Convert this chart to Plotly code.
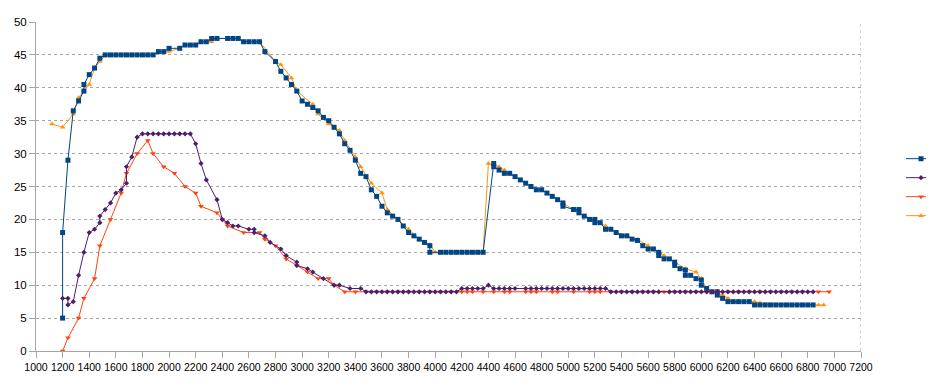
import plotly.graph_objects as go

# ---- Series 1 (blue, squares)
s1_x = [1200, 1200, 1240, 1280, 1320, 1360, 1360, 1400, 1440, 1480, 1520,
        1560, 1600, 1640, 1680, 1720, 1760, 1800, 1840, 1880, 1920, 1960, 2000,
        2080, 2120, 2160, 2200, 2240, 2280, 2320, 2360, 2440, 2480, 2520, 2560,
        2600, 2640, 2680, 2720, 2800, 2840, 2880, 2920, 2960, 3000, 3040, 3080,
        3120, 3160, 3200, 3240, 3280, 3320, 3360, 3400, 3440, 3480, 3520, 3560,
        3600, 3640, 3680, 3720, 3760, 3800, 3840, 3880, 3920, 3960, 3960, 4040,
        4080, 4120, 4160, 4200, 4240, 4280, 4320, 4360, 4440, 4440, 4480, 4520,
        4560, 4600, 4640, 4680, 4720, 4760, 4800, 4840, 4880, 4920, 4960, 4960,
        5040, 5080, 5080, 5120, 5160, 5200, 5200, 5240, 5280, 5320, 5360, 5400,
        5440, 5480, 5520, 5560, 5600, 5640, 5680, 5680, 5720, 5760, 5800, 5800,
        5840, 5880, 5880, 5920, 5960, 6000, 6000, 6040, 6080, 6120, 6120, 6160,
        6200, 6240, 6280, 6320, 6360, 6400, 6440, 6480, 6520, 6560, 6600, 6640,
        6680, 6720, 6760, 6800, 6840]
s1_y = [5, 18, 29, 36.5, 38, 39.5, 40.5, 42, 43, 44.5, 45,
        45, 45, 45, 45, 45, 45, 45, 45, 45, 45.5, 45.5, 46,
        46, 46.5, 46.5, 46.5, 47, 47, 47.5, 47.5, 47.5, 47.5, 47.5, 47,
        47, 47, 47, 45.5, 44, 42.5, 41.5, 40.5, 39.5, 38, 37.5, 37,
        36.5, 35.5, 35, 34, 33, 31.5, 30.5, 29, 27, 26.5, 24.5, 23.5,
        22, 21, 20.5, 20, 19, 18, 17.5, 17, 16.5, 16, 15, 15,
        15, 15, 15, 15, 15, 15, 15, 15, 28.5, 28, 27.5, 27,
        27, 26.5, 26, 25.5, 25, 24.5, 24.5, 24, 23.5, 23, 22.5, 22,
        21.5, 21.5, 21, 20.5, 20, 20, 19.5, 19.5, 18.5, 18.5, 18, 17.5,
        17.5, 17, 16.8, 16, 15.5, 15.5, 15, 14.5, 14, 14, 13.5, 13,
        12.5, 12.3, 11.5, 11.5, 11, 10.8, 10, 9.5, 9, 9, 8.5, 8,
        7.5, 7.5, 7.5, 7.5, 7.5, 7, 7, 7, 7, 7, 7, 7,
        7, 7, 7, 7, 7]

# ---- Series 2 (purple, diamonds)
s2_x = [1200, 1240, 1240, 1280, 1320, 1360, 1400, 1440, 1480, 1480, 1520,
        1560, 1600, 1640, 1680, 1680, 1720, 1760, 1800, 1840, 1880, 1920, 1960,
        2000, 2040, 2080, 2120, 2160, 2200, 2240, 2280, 2360, 2400, 2440, 2480,
        2520, 2600, 2640, 2640, 2720, 2760, 2840, 2880, 2960, 2960, 3040, 3080,
        3160, 3240, 3280, 3360, 3440, 3480, 3520, 3560, 3600, 3640, 3680, 3720,
        3760, 3800, 3840, 3880, 3920, 3960, 4000, 4040, 4080, 4120, 4160, 4200,
        4240, 4280, 4320, 4360, 4400, 4440, 4480, 4520, 4560, 4600, 4680, 4720,
        4760, 4800, 4840, 4880, 4920, 4960, 5000, 5040, 5080, 5120, 5160, 5200,
        5240, 5280, 5320, 5360, 5400, 5440, 5480, 5520, 5560, 5600, 5640, 5680,
        5760, 5800, 5840, 5880, 5920, 5960, 6000, 6040, 6080, 6120, 6160, 6200,
        6240, 6280, 6320, 6360, 6400, 6440, 6480, 6520, 6560, 6600, 6640, 6680,
        6720, 6760, 6800, 6840]
s2_y = [8, 8, 7, 7.5, 11.5, 15, 18, 18.5, 19.5, 20.5, 21.5,
        22.5, 24, 24.5, 25.5, 28, 29.5, 32.5, 33, 33, 33, 33, 33,
        33, 33, 33, 33, 33, 31.5, 28.5, 26, 23, 20, 19.5, 19,
        19, 18.5, 18.5, 18, 17.5, 16.5, 15.5, 14.5, 13.5, 13, 12.5, 12,
        11, 10, 10, 9.5, 9.5, 9, 9, 9, 9, 9, 9, 9,
        9, 9, 9, 9, 9, 9, 9, 9, 9, 9, 9, 9.5,
        9.5, 9.5, 9.5, 9.5, 10, 9.5, 9.5, 9.5, 9.5, 9.5, 9.5, 9.5,
        9.5, 9.5, 9.5, 9.5, 9.5, 9.5, 9.5, 9.5, 9.5, 9.5, 9.5, 9.5,
        9.5, 9.5, 9, 9, 9, 9, 9, 9, 9, 9, 9, 9,
        9, 9, 9, 9, 9, 9, 9, 9, 9, 9, 9, 9,
        9, 9, 9, 9, 9, 9, 9, 9, 9, 9, 9, 9,
        9, 9, 9, 9]

# ---- Series 3 (red, triangle-down)
s3_x = [1200, 1240, 1320, 1360, 1440, 1480, 1560, 1640, 1680, 1760, 1840,
        1880, 1960, 2040, 2120, 2200, 2240, 2360, 2400, 2440, 2560, 2680, 2720,
        2800, 2880, 2960, 3040, 3120, 3200, 3240, 3320, 3400, 3480, 3560, 3640,
        3720, 3800, 3880, 3960, 4040, 4120, 4200, 4240, 4280, 4360, 4440, 4520,
        4560, 4680, 4720, 4760, 4880, 4920, 5040, 5160, 5200, 5240, 5320, 5400,
        5480, 5560, 5640, 5720, 5800, 5880, 5960, 6040, 6120, 6200, 6280, 6360,
        6440, 6520, 6600, 6680, 6760, 6880, 6960]
s3_y = [0, 2, 5, 8, 11, 16, 20, 24, 27, 30, 32,
        30, 28, 27, 25, 24, 22, 21, 20, 19, 18, 18, 17,
        16, 14, 13, 12, 11, 11, 10, 9, 9, 9, 9, 9,
        9, 9, 9, 9, 9, 9, 9, 9, 9, 9, 9, 9,
        9, 9, 9, 9, 9, 9, 9, 9, 9, 9, 9, 9,
        9, 9, 9, 9, 9, 9, 9, 9, 9, 9, 9, 9,
        9, 9, 9, 9, 9, 9, 9]

# ---- Series 4 (orange, triangle-up)
s4_x = [1120, 1200, 1280, 1320, 1360, 1400, 1440, 1480, 1520, 1600, 1680,
        1760, 1840, 1880, 1920, 2000, 2080, 2120, 2200, 2240, 2320, 2360, 2440,
        2520, 2560, 2680, 2800, 2840, 2920, 2960, 3080, 3120, 3200, 3280, 3320,
        3400, 3440, 3520, 3600, 3640, 3720, 3800, 3880, 3920, 3960, 4000, 4080,
        4160, 4240, 4320, 4360, 4400, 4480, 4520, 4560, 4640, 4720, 4800, 4880,
        4960, 5040, 5120, 5200, 5280, 5360, 5440, 5520, 5600, 5680, 5720, 5800,
        5880, 5960, 6000, 6040, 6080, 6160, 6200, 6240, 6400, 6440, 6880, 6920]
s4_y = [34.5, 34, 36, 38.5, 39.5, 40.5, 43, 44, 45, 45, 45,
        45, 45, 45, 45.5, 45.5, 46, 46.5, 46.5, 47, 47, 47.5, 47.5,
        47.5, 47, 47, 44, 43.5, 41.5, 39.5, 37.5, 36, 34.5, 33.5, 32,
        29.5, 28, 25.5, 24, 21.5, 20, 18.5, 17, 16.5, 16.2, 15, 15,
        15, 15, 15, 15, 28.5, 28, 27.5, 27, 26, 25, 24.5, 23.5,
        22.5, 21.5, 20.5, 20, 19, 18, 17.5, 17, 16, 15, 14.5, 13.5,
        12.5, 12, 11, 9.5, 9, 8.5, 8, 7.5, 7.5, 7.3, 7, 7]

FONT = "Liberation Sans, Arial, sans-serif"

fig = go.Figure()
fig.add_trace(go.Scatter(x=s4_x, y=s4_y, name="", legendrank=4, mode="lines+markers",
                         line=dict(color="#FF950E", width=1),
                         marker=dict(symbol="triangle-up", size=5, color="#FF950E")))
fig.add_trace(go.Scatter(x=s1_x, y=s1_y, name="", legendrank=1, mode="lines+markers",
                         line=dict(color="#004586", width=1),
                         marker=dict(symbol="square", size=5, color="#004586")))
fig.add_trace(go.Scatter(x=s3_x, y=s3_y, name="", legendrank=3, mode="lines+markers",
                         line=dict(color="#FF420E", width=1),
                         marker=dict(symbol="triangle-down", size=5, color="#FF420E")))
fig.add_trace(go.Scatter(x=s2_x, y=s2_y, name="", legendrank=2, mode="lines+markers",
                         line=dict(color="#4B1F6F", width=1),
                         marker=dict(symbol="diamond", size=4, color="#4B1F6F")))

fig.add_shape(type="line", xref="x", yref="y", x0=7200, x1=7200, y0=0, y1=50,
              line=dict(color="#a6a6a6", width=1, dash="dot"), layer="below")

# The page body adds an 8px margin, so the figure is sized/margined to compensate.
fig.update_layout(
    width=926, height=378,
    margin=dict(l=28, r=73, t=14, b=35, autoexpand=False),
    paper_bgcolor="white", plot_bgcolor="white",
    font=dict(family=FONT, size=11, color="#000000"),
    showlegend=True,
    legend=dict(x=1.0485, xanchor="left", y=0.498, yanchor="middle",
                font=dict(size=10), bgcolor="rgba(0,0,0,0)", traceorder="normal",
                itemwidth=30),
)
fig.update_xaxes(range=[1000, 7200], dtick=200, tick0=1000, showgrid=False,
                 showline=True, linecolor="#a6a6a6", linewidth=1,
                 ticks="outside", ticklen=6, tickcolor="#a6a6a6",
                 tickangle=0, tickfont=dict(size=10.5), zeroline=False)
fig.update_yaxes(range=[0, 50], dtick=5, tick0=0, showgrid=True,
                 gridcolor="#a6a6a6", griddash="dot", gridwidth=1,
                 showline=True, linecolor="#a6a6a6", linewidth=1,
                 ticks="outside", ticklen=6, tickcolor="#a6a6a6",
                 tickfont=dict(size=11.5), zeroline=False)

fig.write_html("out.html")
